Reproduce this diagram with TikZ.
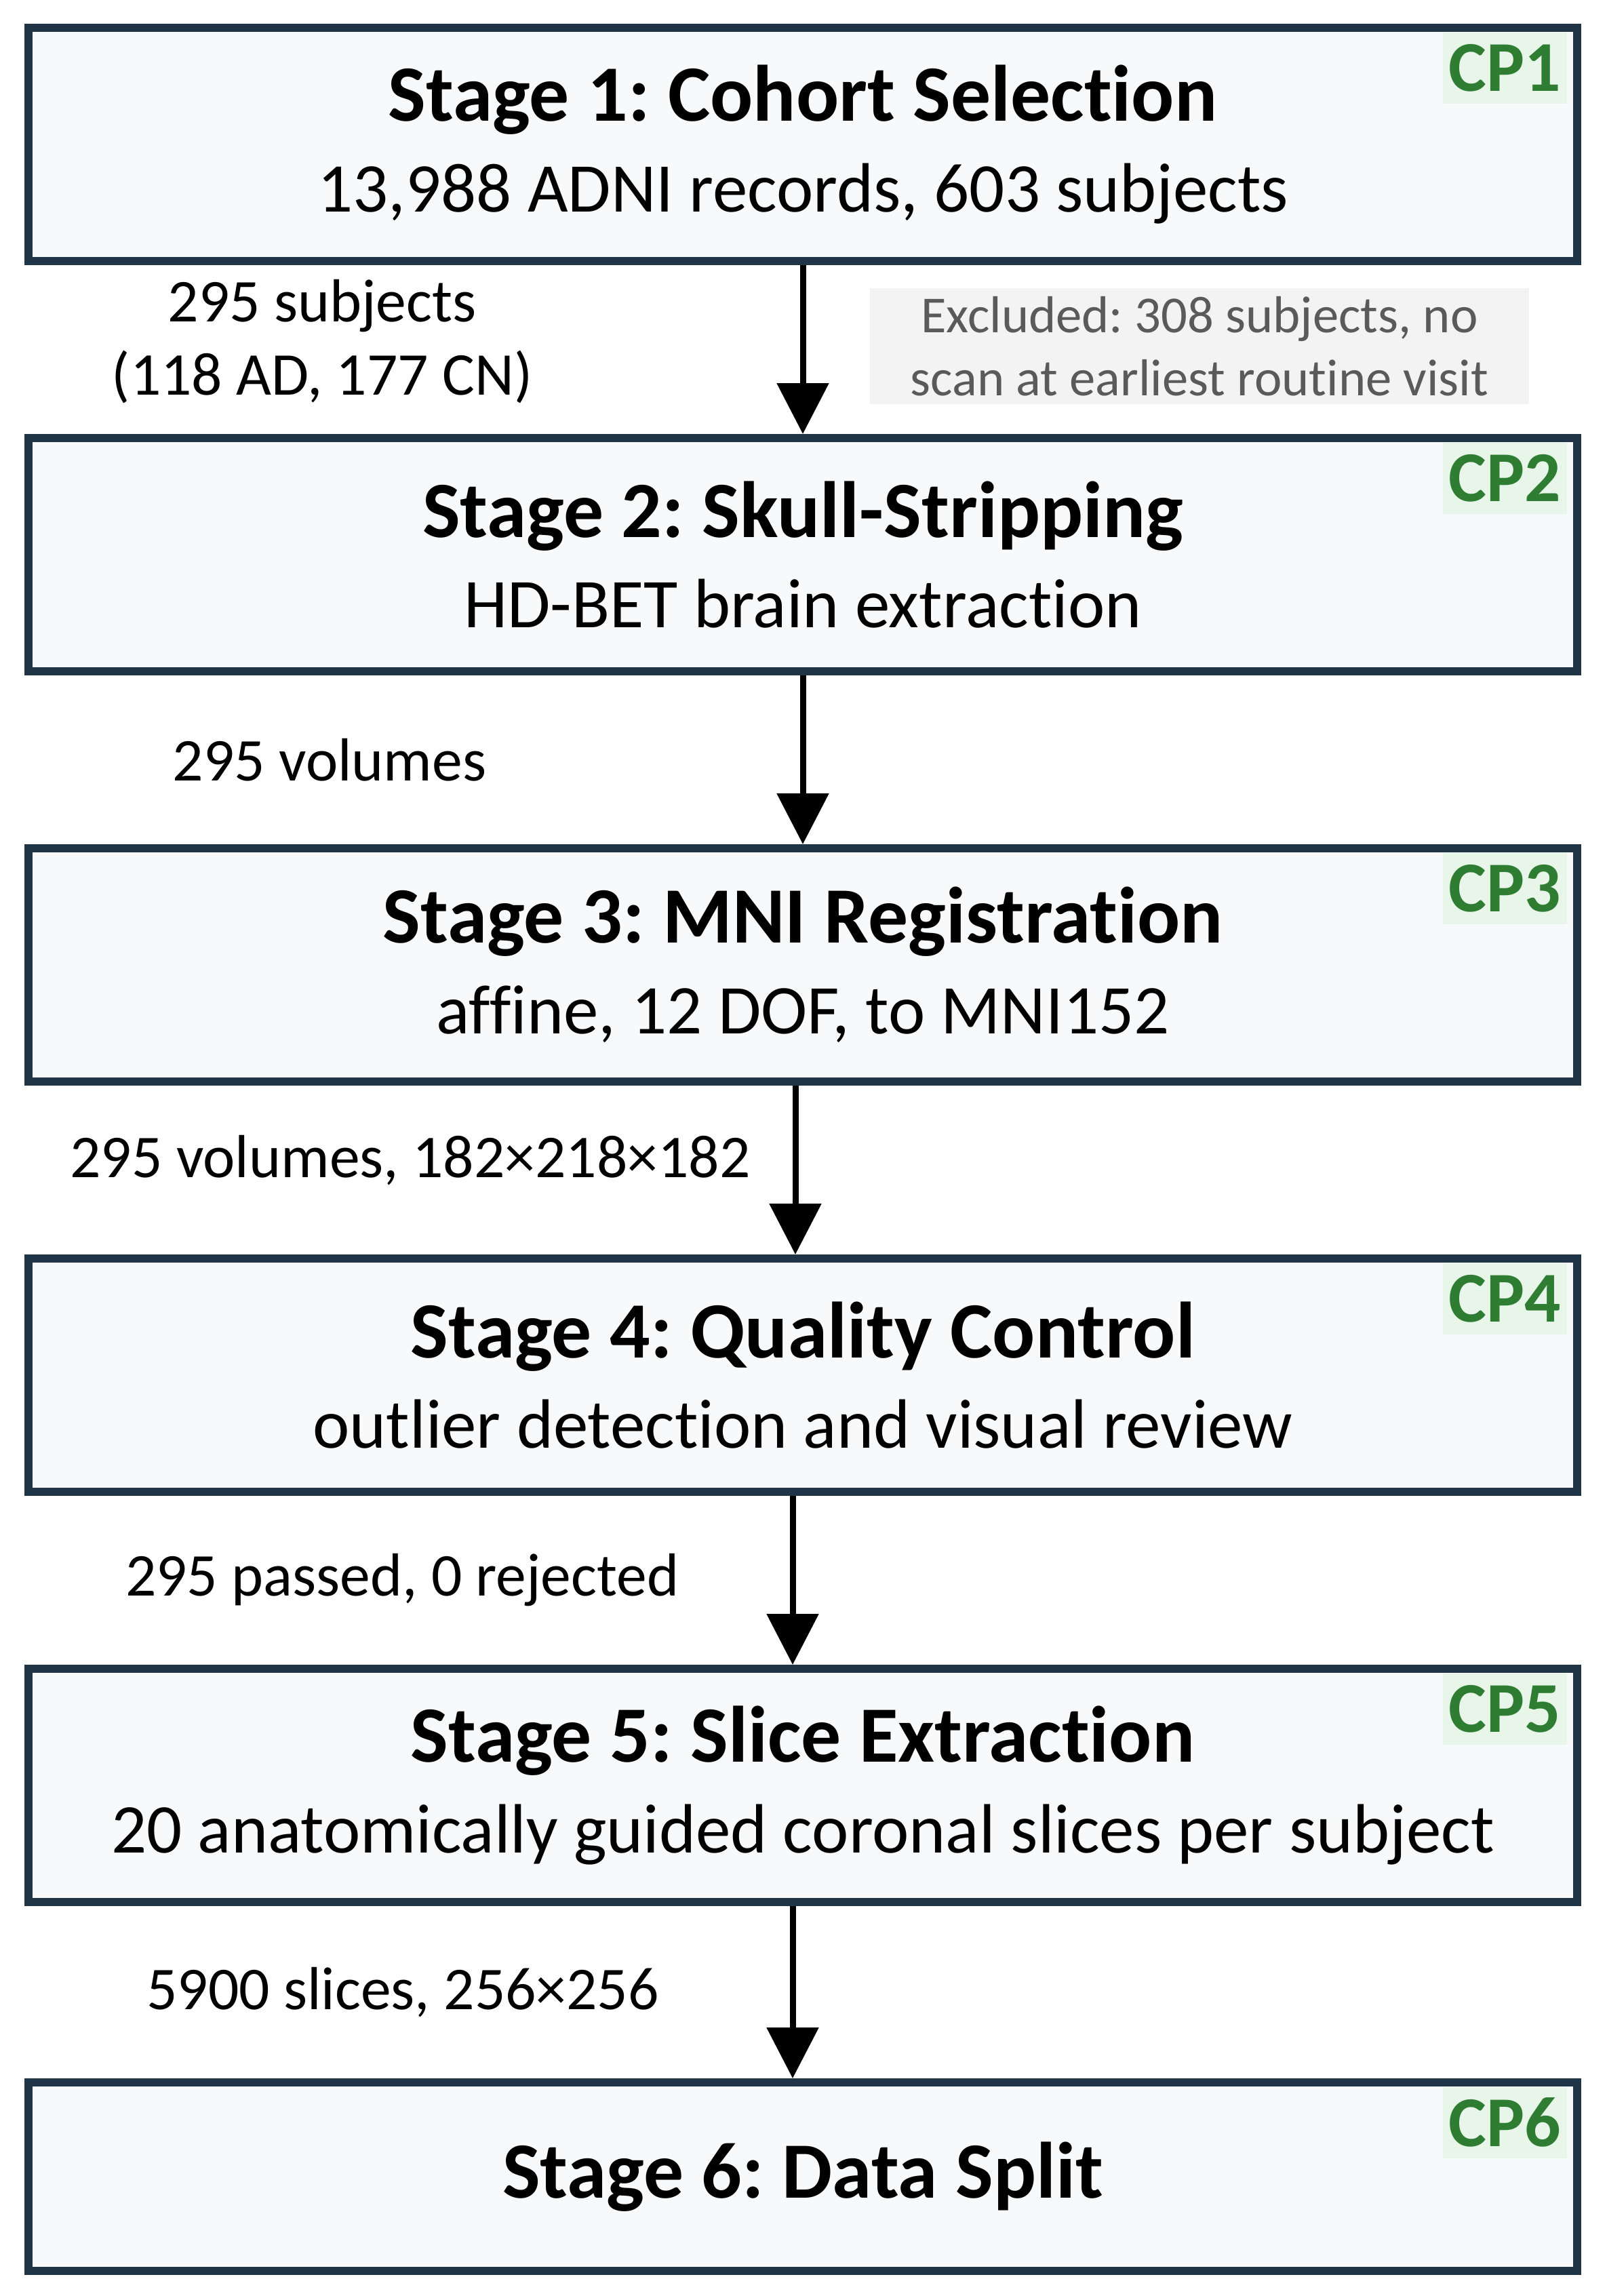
\documentclass[tikz,border=0pt]{standalone}
\usepackage{fontspec}
\setmainfont{Carlito}[Ligatures=NoCommon]
\usetikzlibrary{positioning,arrows.meta}
\definecolor{boxline}{HTML}{1F3447}
\definecolor{boxfill}{HTML}{F8F9FA}
\definecolor{cpfill}{HTML}{E8F5E9}
\definecolor{cpgreen}{HTML}{2E7D32}
\definecolor{exclfill}{HTML}{F3F3F3}
\definecolor{excltext}{HTML}{5A5A5A}
\frenchspacing

\begin{document}
\begin{tikzpicture}[node distance={6.05cm},
    stage/.style = {draw=boxline, line width=0.12cm, fill=boxfill, minimum width=22.84cm, minimum height=3.44cm, align=center, font=\fontsize{29.3}{38}\selectfont},
    cptag/.style = {fill=cpfill, text=cpgreen, font=\bfseries\fontsize{30}{36}\selectfont, inner xsep=0.09cm, minimum height=1.05cm, anchor=north east},
    flow/.style = {line width=0.09cm, -{Triangle[width=0.75cm,length=0.75cm]}},
    lbl/.style = {font=\fontsize{25.5}{30.7}\selectfont, align=center},
    excl/.style = {fill=exclfill, text=excltext, font=\fontsize{21.8}{26.5}\selectfont, align=center, minimum width=9.72cm, minimum height=1.65cm}]
    \useasboundingbox (0,0) rectangle (23.7,-33.86);
    \node[stage] (s1) at (11.84,-2.13) {{\bfseries\fontsize{33.5}{38}\selectfont Stage 1: Cohort Selection}\\13,988 ADNI records, 603 subjects};
    \node[stage, below of=s1] (s2) {{\bfseries\fontsize{33.5}{38}\selectfont Stage 2: Skull-Stripping}\\HD-BET brain extraction};
    \node[stage, below of=s2] (s3) {{\bfseries\fontsize{33.5}{38}\selectfont Stage 3: MNI Registration}\\affine, 12 DOF, to MNI152};
    \node[stage, below of=s3] (s4) {{\bfseries\fontsize{33.5}{38}\selectfont Stage 4: Quality Control}\\outlier detection and visual review};
    \node[stage, below of=s4] (s5) {{\bfseries\fontsize{33.5}{38}\selectfont Stage 5: Slice Extraction}\\20 anatomically guided coronal slices per subject};
    \node[stage, minimum height=2.78cm, node distance=5.77cm, below of=s5] (s6) {\bfseries\fontsize{33.5}{38}\selectfont Stage 6: Data Split};
    \foreach \i in {1,...,6}
        \node[cptag] (cp\i) at ([xshift=-0.2cm, yshift=-0.12cm]s\i.north east) {CP\i};
    \draw[flow] (s1) -- node[lbl, xshift=-7.09cm, yshift=0.12cm] {295 subjects\\(118 AD, 177 CN)} node[excl, xshift=5.85cm, yshift=0.05cm] {Excluded: 308 subjects, no\\scan at earliest routine visit} (s2);
    \draw[flow] (s2) -- node[lbl, xshift=-6.98cm] {295 volumes} (s3);
    \draw[flow] ([xshift=-0.11cm]s3.south) -- node[lbl, xshift=-5.68cm, yshift=0.14cm] {295 volumes, 182×218×182} ([xshift=-0.11cm]s4.north);
    \draw[flow] ([xshift=-0.15cm]s4.south) -- node[lbl, xshift=-5.76cm] {295 passed, 0 rejected} ([xshift=-0.15cm]s5.north);
    \draw[flow] ([xshift=-0.15cm]s5.south) -- node[lbl, xshift=-5.75cm] {5900 slices, 256×256} ([xshift=-0.15cm]s6.north);
\end{tikzpicture}
\end{document}
